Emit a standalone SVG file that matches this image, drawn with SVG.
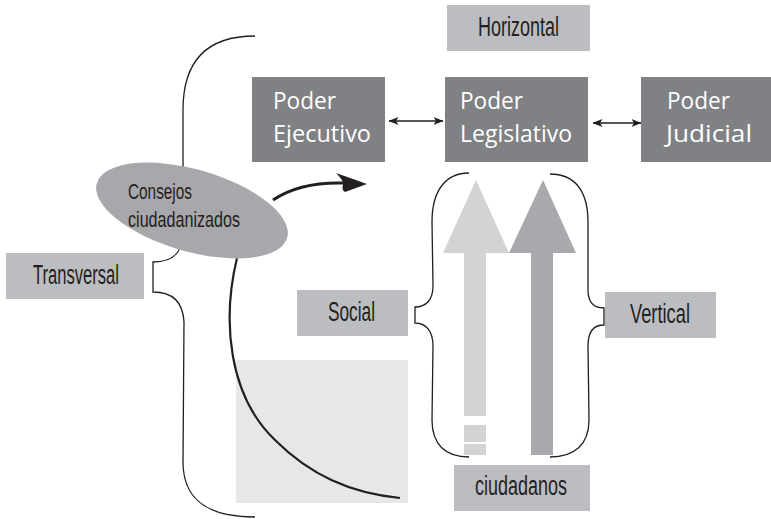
<svg xmlns="http://www.w3.org/2000/svg" width="771" height="519" viewBox="0 0 771 519">
  <style>
    .dark { fill: #808184; }
    .label { fill: #bcbdc0; }
    .wtxt { font-family: "Open Sans", "Liberation Sans", sans-serif; font-size: 23px; fill: #ffffff; }
    .ltxt { font-family: "Liberation Sans", "DejaVu Sans", sans-serif; font-size: 27px; fill: #231f20; }
    .ctxt { font-family: "Liberation Sans", "DejaVu Sans", sans-serif; font-size: 22px; fill: #231f20; }
    .brace { fill: none; stroke: #231f20; stroke-width: 1.3; }
    .link { fill: none; stroke: #231f20; stroke-width: 1.3; }
  </style>
  <defs>
    <marker id="tip" viewBox="0 0 10 8" refX="9.5" refY="4" markerWidth="10" markerHeight="8" markerUnits="userSpaceOnUse" orient="auto-start-reverse">
      <path d="M0,0 L10,4 L0,8 L2.5,4 Z" fill="#231f20"/>
    </marker>
  </defs>

  <!-- background panel behind the citizen curve -->
  <rect x="236" y="360" width="172" height="143" fill="#e6e7e8"/>

  <!-- braces -->
  <g id="braces">
    <path class="brace" d="M255,36 C205,36 183,62 183,110 L183,232 C183,254 172,262 153,262 L153,292 C172,292 183,302 184,322 L183,462 C183,498 205,517 255,517"/>
    <path class="brace" d="M469,173 C446,173 432,190 432,222 L433,286 C433,300 426,307 415,307 L415,323 C426,323 433,331 433,346 L432,420 C432,444 445,457 469,457"/>
    <path class="brace" d="M550,174 C574,174 588,190 588,222 L588,290 C588,302 594,308 604,308 L604,325 C594,325 588,332 588,346 L589,420 C589,444 575,457 550,457"/>
  </g>

  <!-- upward arrows -->
  <g id="arrow-social">
    <polygon points="476,180 443,253 509,253" fill="#d1d3d4"/>
    <rect x="464" y="250" width="22" height="166" fill="#d1d3d4"/>
    <rect x="464" y="425" width="22" height="17" fill="#d1d3d4"/>
    <rect x="464" y="444" width="22" height="11" fill="#d1d3d4"/>
  </g>
  <g id="arrow-vertical">
    <polygon points="543,180 509,253 576,253" fill="#a7a9ac"/>
    <rect x="531" y="250" width="22" height="205" fill="#a7a9ac"/>
  </g>

  <!-- connectors -->
  <g id="connectors">
    <line class="link" x1="389" y1="121" x2="443" y2="121" marker-start="url(#tip)" marker-end="url(#tip)"/>
    <line class="link" x1="593" y1="123" x2="641" y2="123" marker-start="url(#tip)" marker-end="url(#tip)"/>
    <path d="M237,258 C222,320 228,395 275,440 C310,475 350,493 400,498" fill="none" stroke="#231f20" stroke-width="2.2"/>
    <path d="M273,200 C292,187 315,182 345,183" fill="none" stroke="#231f20" stroke-width="3"/>
    <path d="M367,184 L336,173 C341,178 343,181 343,184 C343,187 341,189 345,192 Z" fill="#231f20"/>
  </g>

  <!-- nodes -->
  <g id="consejos">
    <ellipse cx="192" cy="210.5" rx="99" ry="41" transform="rotate(16 192 210.5)" fill="#a7a8ab"/>
    <text class="ctxt" x="128" y="199" textLength="64" lengthAdjust="spacingAndGlyphs">Consejos</text>
    <text class="ctxt" x="128" y="227" textLength="112" lengthAdjust="spacingAndGlyphs">ciudadanizados</text>
  </g>

  <g id="ejecutivo">
    <rect class="dark" x="252" y="77" width="133" height="85"/>
    <text class="wtxt" x="273" y="109" textLength="63" lengthAdjust="spacingAndGlyphs">Poder</text>
    <text class="wtxt" x="273" y="142" textLength="98" lengthAdjust="spacingAndGlyphs">Ejecutivo</text>
  </g>

  <g id="legislativo">
    <rect class="dark" x="445" y="77" width="143" height="85"/>
    <text class="wtxt" x="460" y="109" textLength="63" lengthAdjust="spacingAndGlyphs">Poder</text>
    <text class="wtxt" x="460" y="142" textLength="112" lengthAdjust="spacingAndGlyphs">Legislativo</text>
  </g>

  <g id="judicial">
    <rect class="dark" x="641" y="77" width="130" height="85"/>
    <text class="wtxt" x="667" y="109" textLength="63" lengthAdjust="spacingAndGlyphs">Poder</text>
    <text class="wtxt" x="666" y="142" textLength="86" lengthAdjust="spacingAndGlyphs">Judicial</text>
  </g>

  <g id="horizontal">
    <rect class="label" x="447" y="5" width="143" height="46"/>
    <text class="ltxt" x="478" y="36" textLength="81" lengthAdjust="spacingAndGlyphs">Horizontal</text>
  </g>

  <g id="transversal">
    <rect class="label" x="6" y="253" width="138" height="46"/>
    <text class="ltxt" x="33" y="284" textLength="86" lengthAdjust="spacingAndGlyphs">Transversal</text>
  </g>

  <g id="social">
    <rect class="label" x="297" y="290" width="111" height="46"/>
    <text class="ltxt" x="328" y="321" textLength="47" lengthAdjust="spacingAndGlyphs">Social</text>
  </g>

  <g id="vertical">
    <rect class="label" x="605" y="292" width="111" height="46"/>
    <text class="ltxt" x="630" y="323" textLength="60" lengthAdjust="spacingAndGlyphs">Vertical</text>
  </g>

  <g id="ciudadanos">
    <rect class="label" x="454" y="465" width="136" height="46"/>
    <text class="ltxt" x="475" y="495" textLength="92" lengthAdjust="spacingAndGlyphs">ciudadanos</text>
  </g>
</svg>
